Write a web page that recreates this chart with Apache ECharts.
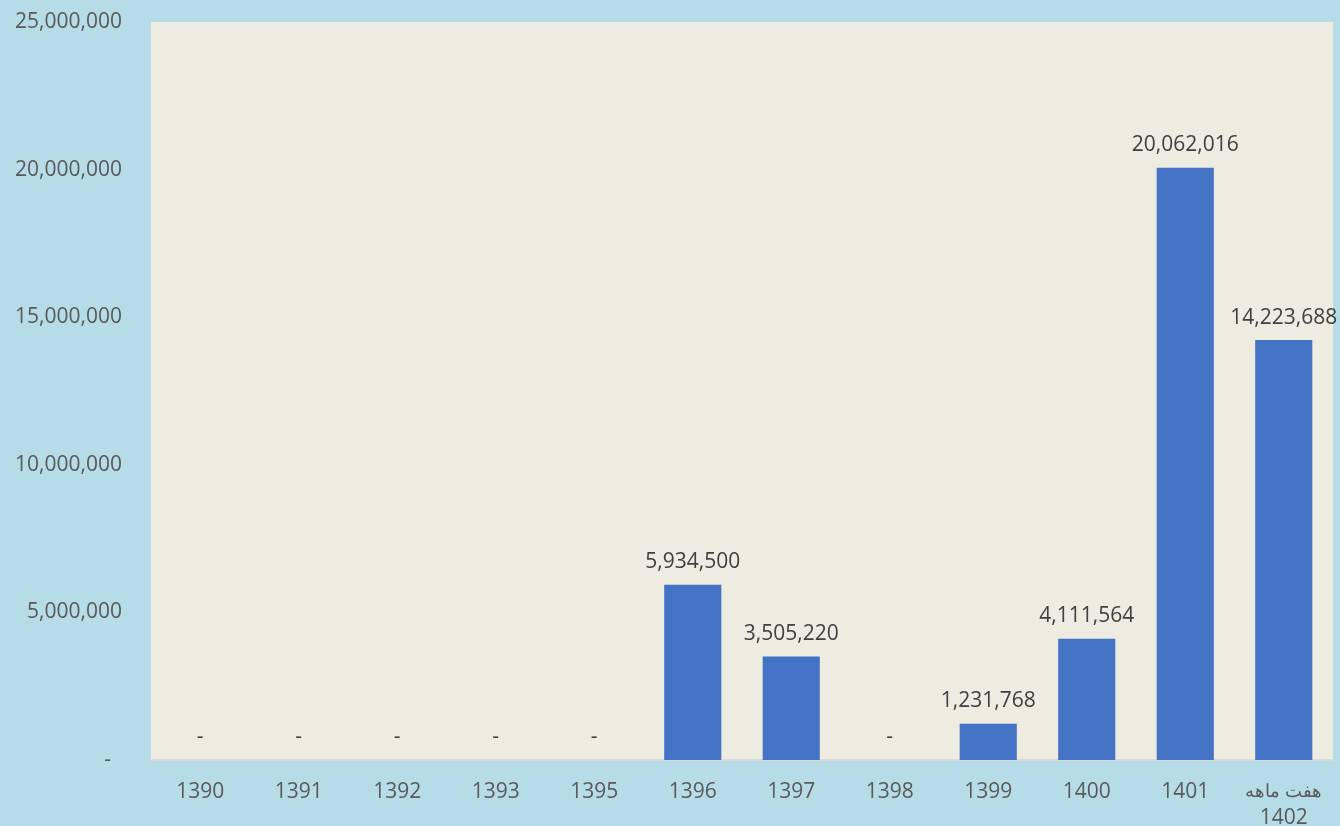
<!DOCTYPE html>
<html>
<head>
<meta charset="utf-8">
<script src="https://cdn.jsdelivr.net/npm/echarts@6/dist/echarts.min.js"></script>
<style>html,body{margin:0;padding:0;background:#b6dde7;}#c{width:1340px;height:826px;}</style>
</head>
<body>
<div id="c"></div>
<script>
const categories = ['1390','1391','1392','1393','1395','1396','1397','1398','1399','1400','1401','هفت ماهه\n1402'];
const values = [0,0,0,0,0,5934500,3505220,0,1231768,4111564,20062016,14223688];
const yTicks = {min:0, max:25000000, interval:5000000};

const fmt = v => v === 0 ? '-' : v.toLocaleString('en-US');
const chart = echarts.init(document.getElementById('c'));
chart.setOption({
  backgroundColor: '#b6dde7',
  textStyle: {fontFamily: 'Open Sans'},
  grid: {left: 151, right: 7, top: 22, bottom: 66, show: true, backgroundColor: '#eeebe0', borderWidth: 0,
    outerBoundsMode: 'none', containLabel: false},
  xAxis: {
    type: 'category', data: categories,
    axisLine: {lineStyle: {color: '#d9d9d9', width: 2}},
    axisTick: {show: false},
    axisLabel: {color: '#595959', fontSize: 21, margin: 19, lineHeight: 26, interval: 0,
      formatter: v => {
        const parts = v.split('\n');
        return parts.length > 1 ? '{fa|' + parts[0] + '}\n' + parts[1] : v;
      },
      rich: {fa: {fontSize: 18, color: '#595959', lineHeight: 26}}
    }
  },
  yAxis: {
    type: 'value', min: yTicks.min, max: yTicks.max, interval: yTicks.interval,
    splitLine: {show: false}, axisLine: {show: false}, axisTick: {show: false},
    axisLabel: {color: '#595959', fontSize: 21, margin: 29,
      formatter: v => v === 0 ? '-  ' : v.toLocaleString('en-US')}
  },
  series: [{
    type: 'bar', data: values, barWidth: '58%',
    itemStyle: {color: '#4472c4'},
    label: {show: true, position: 'top', distance: 12, color: '#404040', fontSize: 21,
      formatter: p => fmt(p.value)}
  }]
});
</script>
</body>
</html>
